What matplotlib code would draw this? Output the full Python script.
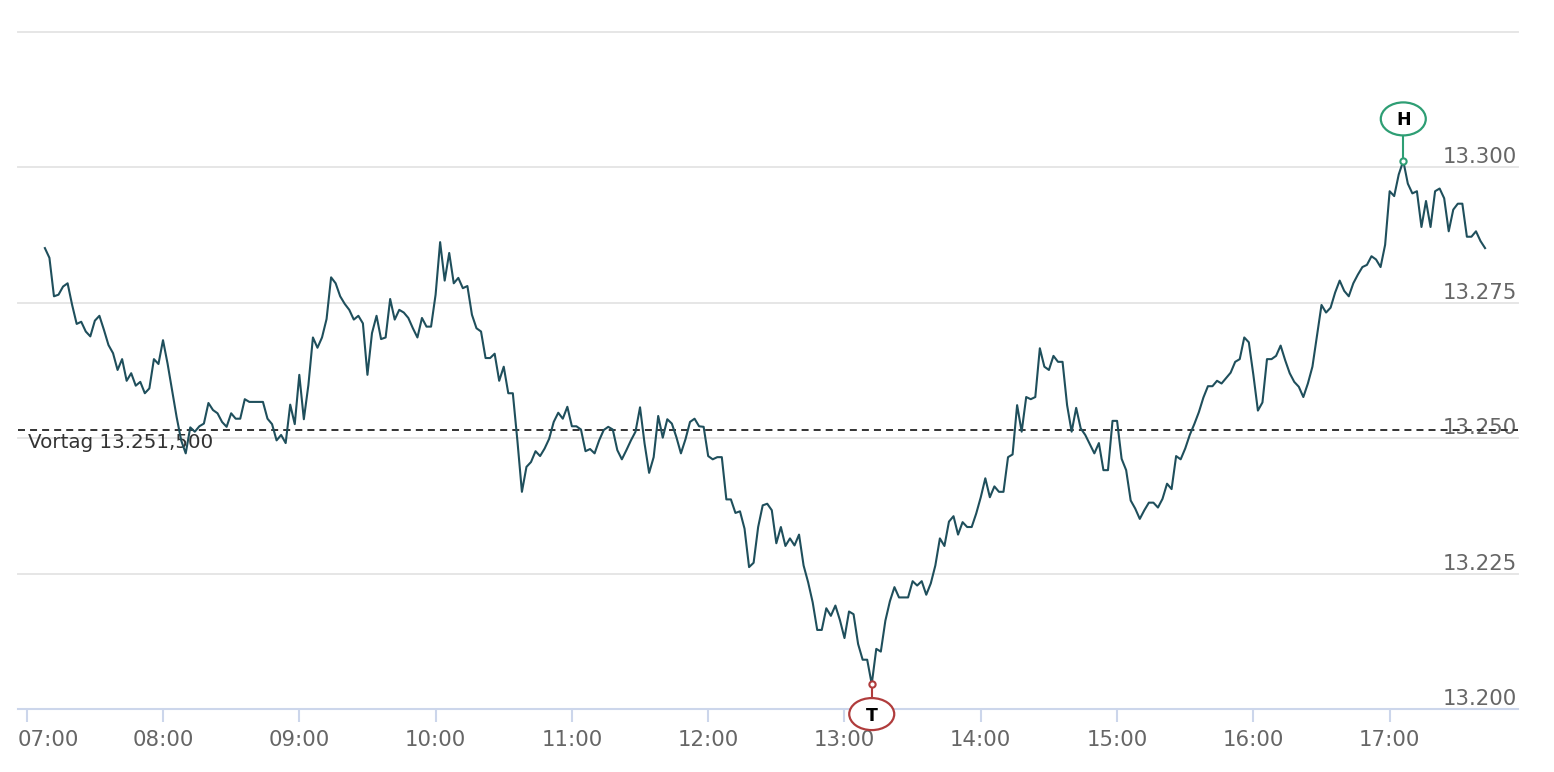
import numpy as np
import pandas as pd
import matplotlib
matplotlib.use("Agg")
import matplotlib.pyplot as plt
import matplotlib.dates as mdates
import matplotlib.transforms as mtransforms
from matplotlib.patches import Ellipse
from matplotlib.lines import Line2D

# intraday prices, one value every 2 minutes starting 07:08
start_time = "2024-01-01 07:08"
step = "2min"
prices = [
    13.2851, 13.2833, 13.2762, 13.2765, 13.2780, 13.2786, 13.2746, 13.2711, 13.2715, 13.2697,
    13.2688, 13.2717, 13.2726, 13.2700, 13.2672, 13.2657, 13.2626, 13.2646, 13.2606, 13.2620,
    13.2597, 13.2604, 13.2583, 13.2592, 13.2646, 13.2637, 13.2681, 13.2638, 13.2589, 13.2539,
    13.2496, 13.2472, 13.2520, 13.2512, 13.2522, 13.2527, 13.2565, 13.2552, 13.2546, 13.2530,
    13.2521, 13.2546, 13.2536, 13.2536, 13.2572, 13.2567, 13.2567, 13.2567, 13.2567, 13.2536,
    13.2526, 13.2496, 13.2506, 13.2491, 13.2562, 13.2526, 13.2617, 13.2535, 13.2598, 13.2686,
    13.2667, 13.2686, 13.2720, 13.2797, 13.2786, 13.2762, 13.2748, 13.2737, 13.2719, 13.2726,
    13.2712, 13.2617, 13.2694, 13.2726, 13.2683, 13.2686, 13.2757, 13.2719, 13.2737, 13.2732,
    13.2722, 13.2703, 13.2686, 13.2722, 13.2706, 13.2706, 13.2765, 13.2862, 13.2791, 13.2842,
    13.2786, 13.2796, 13.2777, 13.2781, 13.2728, 13.2703, 13.2697, 13.2648, 13.2648, 13.2656,
    13.2606, 13.2632, 13.2583, 13.2583, 13.2496, 13.2401, 13.2447, 13.2456, 13.2476, 13.2467,
    13.2481, 13.2499, 13.2530, 13.2547, 13.2536, 13.2558, 13.2522, 13.2522, 13.2516, 13.2476,
    13.2480, 13.2472, 13.2496, 13.2515, 13.2521, 13.2516, 13.2478, 13.2461, 13.2478, 13.2496,
    13.2512, 13.2557, 13.2490, 13.2436, 13.2465, 13.2541, 13.2501, 13.2535, 13.2527, 13.2502,
    13.2472, 13.2498, 13.2530, 13.2536, 13.2522, 13.2521, 13.2467, 13.2461, 13.2465, 13.2465,
    13.2387, 13.2387, 13.2362, 13.2365, 13.2333, 13.2262, 13.2270, 13.2336, 13.2376, 13.2379,
    13.2367, 13.2306, 13.2336, 13.2301, 13.2315, 13.2302, 13.2322, 13.2265, 13.2234, 13.2197,
    13.2146, 13.2146, 13.2186, 13.2172, 13.2191, 13.2164, 13.2131, 13.2180, 13.2175, 13.2120,
    13.2091, 13.2091, 13.2046, 13.2111, 13.2106, 13.2163, 13.2199, 13.2225, 13.2206, 13.2206,
    13.2206, 13.2236, 13.2228, 13.2236, 13.2211, 13.2232, 13.2265, 13.2315, 13.2301, 13.2346,
    13.2356, 13.2322, 13.2345, 13.2336, 13.2336, 13.2361, 13.2391, 13.2426, 13.2391, 13.2411,
    13.2401, 13.2401, 13.2465, 13.2470, 13.2561, 13.2512, 13.2576, 13.2572, 13.2576, 13.2666,
    13.2632, 13.2626, 13.2652, 13.2641, 13.2641, 13.2561, 13.2512, 13.2556, 13.2518, 13.2506,
    13.2489, 13.2472, 13.2491, 13.2441, 13.2441, 13.2532, 13.2532, 13.2462, 13.2441, 13.2385,
    13.2370, 13.2351, 13.2367, 13.2381, 13.2381, 13.2372, 13.2388, 13.2416, 13.2406, 13.2467,
    13.2461, 13.2481, 13.2506, 13.2526, 13.2548, 13.2575, 13.2596, 13.2596, 13.2606, 13.2601,
    13.2611, 13.2621, 13.2641, 13.2646, 13.2686, 13.2677, 13.2617, 13.2551, 13.2566, 13.2646,
    13.2646, 13.2652, 13.2671, 13.2644, 13.2620, 13.2604, 13.2595, 13.2576, 13.2601, 13.2632,
    13.2689, 13.2746, 13.2732, 13.2741, 13.2769, 13.2791, 13.2772, 13.2762, 13.2786, 13.2802,
    13.2816, 13.2820, 13.2836, 13.2830, 13.2816, 13.2857, 13.2956, 13.2947, 13.2987, 13.3012,
    13.2970, 13.2952, 13.2956, 13.2890, 13.2938, 13.2890, 13.2956, 13.2961, 13.2943, 13.2882,
    13.2922, 13.2933, 13.2933, 13.2872, 13.2872, 13.2882, 13.2864, 13.2851,
]

prev_close = 13.2515
prev_close_label = "Vortag 13.251,500"
y_labels = [13.200, 13.225, 13.250, 13.275, 13.300]
grid_levels = [13.225, 13.250, 13.275, 13.300, 13.325]
hour_labels = ["07:00", "08:00", "09:00", "10:00", "11:00", "12:00",
               "13:00", "14:00", "15:00", "16:00", "17:00"]

LINE_COLOR = "#1f4f5c"
HIGH_COLOR = "#2e9e74"
LOW_COLOR = "#b03c3c"
LABEL_COLOR = "#666666"

times = pd.date_range(start_time, periods=len(prices), freq=step)
hour_times = [pd.Timestamp("2024-01-01 " + h) for h in hour_labels]

fig = plt.figure(figsize=(15.54, 7.72), dpi=100)
W, H = 1554, 772
left, right, top, bottom = 18, 1518, 32, 709
ax = fig.add_axes([left / W, 1 - bottom / H, (right - left) / W, (bottom - top) / H])

# grid lines
for lvl in grid_levels:
    ax.axhline(lvl, color="#e6e6e6", lw=1.4, zorder=0, clip_on=False)

# previous close
ax.axhline(prev_close, color="#333333", lw=1.4, dashes=(3.6, 2.6), zorder=2)
ax.annotate(prev_close_label, xy=(0, prev_close),
            xycoords=mtransforms.blended_transform_factory(ax.transAxes, ax.transData),
            xytext=(10, -18), textcoords="offset pixels", ha="left", va="baseline",
            fontsize=14.3, color="#333333", zorder=1)

# price line
ax.plot(times, prices, color=LINE_COLOR, lw=1.5, zorder=3)

# y labels on the right, above the grid lines
blend_y = mtransforms.blended_transform_factory(ax.transAxes, ax.transData)
for v in y_labels:
    ax.annotate(f"{v:.3f}", xy=(1, v), xycoords=blend_y, xytext=(-1, 4),
                textcoords="offset pixels", ha="right", va="baseline",
                fontsize=15.3, color=LABEL_COLOR, zorder=1)

# x axis
for s in ["top", "left", "right"]:
    ax.spines[s].set_visible(False)
ax.spines["bottom"].set_color("#ccd6eb")
ax.spines["bottom"].set_linewidth(1.5)
ax.set_xticks(hour_times)
ax.tick_params(axis="x", length=9.5, width=1.5, color="#ccd6eb", labelbottom=False)
ax.set_yticks([])

blend_x = mtransforms.blended_transform_factory(ax.transData, ax.transAxes)
for i, (t, lab) in enumerate(zip(hour_times, hour_labels)):
    if i == 0:
        ax.annotate(lab, xy=(0, 0), xycoords="axes fraction", xytext=(0, -37),
                    textcoords="offset pixels", ha="left", va="baseline",
                    fontsize=15.3, color=LABEL_COLOR, annotation_clip=False)
    else:
        ax.annotate(lab, xy=(mdates.date2num(t), 0), xycoords=blend_x, xytext=(0, -37),
                    textcoords="offset pixels", ha="center", va="baseline",
                    fontsize=15.3, color=LABEL_COLOR, annotation_clip=False)


def draw_flag(t, v, letter, color, dy, w, h):
    base = mtransforms.ScaledTranslation(mdates.date2num(t), v, ax.transData)
    tr = mtransforms.Affine2D() + base
    stem_end = dy - np.sign(dy) * h / 2
    ax.add_line(Line2D([0, 0], [0, stem_end], transform=tr, color=color, lw=1.5,
                       clip_on=False, zorder=5))
    ax.add_patch(Ellipse((0, dy), w, h, transform=tr, facecolor="white",
                         edgecolor=color, lw=1.6, clip_on=False, zorder=6))
    ax.text(0, dy - 1.5, letter, transform=tr, ha="center", va="center",
            fontsize=12.5, fontweight="bold", color="black", zorder=7, clip_on=False)
    ax.plot([t], [v], marker="o", ms=4.5, mfc="white", mec=color, mew=1.5,
            zorder=6, clip_on=False)


i_hi = int(np.argmax(prices))
i_lo = int(np.argmin(prices))
draw_flag(times[i_hi], prices[i_hi], "H", HIGH_COLOR, 42, 45, 33)
draw_flag(times[i_lo], prices[i_lo], "T", LOW_COLOR, -30, 45, 32)

ax.set_xlim(pd.Timestamp("2024-01-01 06:56:10"), pd.Timestamp("2024-01-01 17:56:30"))
ax.set_ylim(13.200, 13.325)

fig.savefig("out.png", dpi=100)
